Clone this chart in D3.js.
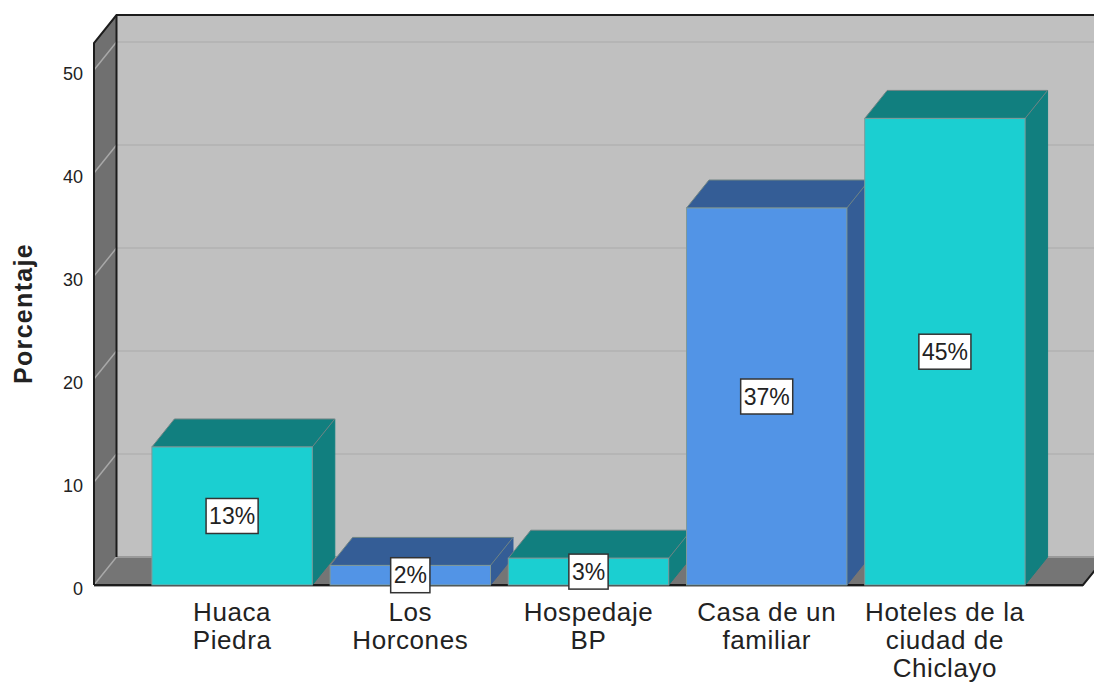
<!DOCTYPE html>
<html lang="en">
<head>
<meta charset="utf-8">
<title>Porcentaje</title>
<script src="https://d3js.org/d3.v7.min.js"></script>
<style>
  html, body { margin: 0; padding: 0; background: #fff; }
  svg { display: block; }
  text { font-family: "Liberation Sans", Arial, sans-serif; fill: #222; }
</style>
</head>
<body>
<script>
const categories = ["Huaca Piedra", "Los Horcones", "Hospedaje BP", "Casa de un familiar", "Hoteles de la ciudad de Chiclayo"];
const categoryLines = [["Huaca", "Piedra"], ["Los", "Horcones"], ["Hospedaje", "BP"], ["Casa de un", "familiar"], ["Hoteles de la", "ciudad de", "Chiclayo"]];
const values = [13.4, 1.9, 2.6, 36.6, 45.3];
const valueLabels = ["13%", "2%", "3%", "37%", "45%"];
const yTicks = [0, 10, 20, 30, 40, 50];

const width = 1094, height = 682;
const depthX = 22.5, depthY = -28;   // oblique offset of the 3d box
const boxLeft = 94, boxRight = 1083, boxTop = 43;

const teal = { front: "#1bcfd1", dark: "#117f7f" };
const blue = { front: "#5294e6", dark: "#345d96" };
const tones = [teal, blue, teal, blue, teal];

const x = d3.scaleBand().domain(categories).range([143, 1034]).paddingInner(0.1).paddingOuter(0.05);
const y = d3.scaleLinear().domain([0, 50]).range([585, 70]);

const svg = d3.select("body").append("svg").attr("width", width).attr("height", height);
const pts = p => p.map(d => d.join(",")).join(" ");

// back wall, side wall, floor
svg.append("rect").attr("x", boxLeft + depthX).attr("y", boxTop + depthY)
  .attr("width", width - boxLeft).attr("height", y(0) - boxTop).attr("fill", "#c0c0c0");
svg.append("polygon").attr("fill", "#707070")
  .attr("points", pts([[boxLeft, y(0)], [boxLeft, boxTop], [boxLeft + depthX, boxTop + depthY], [boxLeft + depthX, y(0) + depthY]]));
svg.append("polygon").attr("fill", "#757575")
  .attr("points", pts([[boxLeft, y(0)], [boxLeft + depthX, y(0) + depthY], [boxRight + depthX, y(0) + depthY], [boxRight, y(0)]]));
svg.append("line").attr("x1", boxLeft + depthX).attr("x2", width).attr("y1", y(0) + depthY).attr("y2", y(0) + depthY)
  .attr("stroke", "#9a9a9a").attr("stroke-width", 2);

// gridlines run along the side wall, then across the back
const grid = svg.append("g").attr("fill", "none").attr("stroke-width", 1.5);
yTicks.forEach(t => {
  grid.append("line").attr("x1", boxLeft).attr("y1", y(t)).attr("x2", boxLeft + depthX).attr("y2", y(t) + depthY).attr("stroke", "#a8a8a8");
  if (t > 0) grid.append("line").attr("x1", boxLeft + depthX).attr("y1", y(t) + depthY).attr("x2", width).attr("y2", y(t) + depthY).attr("stroke", "#b2b2b2");
});

// box outline
const outline = svg.append("g").attr("fill", "none").attr("stroke", "#1c1c1c").attr("stroke-width", 2);
outline.append("polyline").attr("points", pts([[boxLeft, y(0)], [boxLeft, boxTop], [boxLeft + depthX, boxTop + depthY], [width, boxTop + depthY]]));
outline.append("line").attr("x1", boxLeft + depthX).attr("y1", boxTop + depthY).attr("x2", boxLeft + depthX).attr("y2", y(0) + depthY);
outline.append("polyline").attr("points", pts([[boxLeft, y(0)], [boxRight, y(0)], [boxRight + depthX, y(0) + depthY]]));
svg.append("line").attr("x1", boxLeft).attr("x2", boxRight).attr("y1", y(0) + 1.5).attr("y2", y(0) + 1.5)
  .attr("stroke", "#a6a6a6").attr("stroke-width", 1);

// bars
const bars = svg.selectAll("g.bar").data(categories).enter().append("g").attr("class", "bar");
bars.each(function (c, i) {
  const g = d3.select(this), x0 = x(c), x1 = x0 + x.bandwidth(), yt = y(values[i]), yb = y(0), tone = tones[i];
  g.append("polygon").attr("fill", tone.dark).attr("stroke", tone.dark).attr("stroke-width", 1)
    .attr("points", pts([[x1, yt], [x1 + depthX, yt + depthY], [x1 + depthX, yb + depthY], [x1, yb]]));
  g.append("polygon").attr("fill", tone.dark).attr("stroke", "#6f8484").attr("stroke-width", 1)
    .attr("points", pts([[x0, yt], [x0 + depthX, yt + depthY], [x1 + depthX, yt + depthY], [x1, yt]]));
  g.append("rect").attr("x", x0).attr("y", yt).attr("width", x.bandwidth()).attr("height", yb - yt)
    .attr("fill", tone.front).attr("stroke", "#7f9a9a").attr("stroke-width", 1);
});

// percentage boxes sit in the middle of the front face
const labels = svg.selectAll("g.val").data(categories).enter().append("g").attr("class", "val")
  .attr("transform", (c, i) => `translate(${x(c) + x.bandwidth() / 2},${(y(values[i]) + y(0)) / 2})`);
labels.each(function (c, i) {
  const g = d3.select(this);
  const t = g.append("text").attr("text-anchor", "middle").attr("dy", "0.36em").attr("font-size", 23).text(valueLabels[i]);
  const w = t.node().getComputedTextLength() + 6;
  g.insert("rect", "text").attr("x", -w / 2).attr("y", -17.5).attr("width", w).attr("height", 35)
    .attr("fill", "#fff").attr("stroke", "#333").attr("stroke-width", 1.5);
});

// y axis labels
const axis = d3.axisLeft(y).tickValues(yTicks).tickSize(0).tickPadding(11).tickFormat(d3.format("d"));
const ay = svg.append("g").attr("transform", `translate(${boxLeft},0)`).call(axis);
ay.select(".domain").remove();
ay.selectAll("text").attr("font-size", 18).attr("dy", "0.53em").style("font-family", '"Liberation Sans", Arial, sans-serif');

svg.append("text").attr("transform", "translate(32,313.5) rotate(-90)").attr("text-anchor", "middle")
  .attr("font-size", 25).attr("font-weight", "bold").attr("letter-spacing", 1.3).text("Porcentaje");

// category labels
const cat = svg.selectAll("text.cat").data(categories).enter().append("text").attr("class", "cat")
  .attr("text-anchor", "middle").attr("font-size", 26).attr("letter-spacing", 0.6);
cat.each(function (c, i) {
  d3.select(this).selectAll("tspan").data(categoryLines[i]).enter().append("tspan")
    .attr("x", x(c) + x.bandwidth() / 2)
    .attr("y", (d, j) => 621 + j * 28)
    .text(d => d);
});
</script>
</body>
</html>
